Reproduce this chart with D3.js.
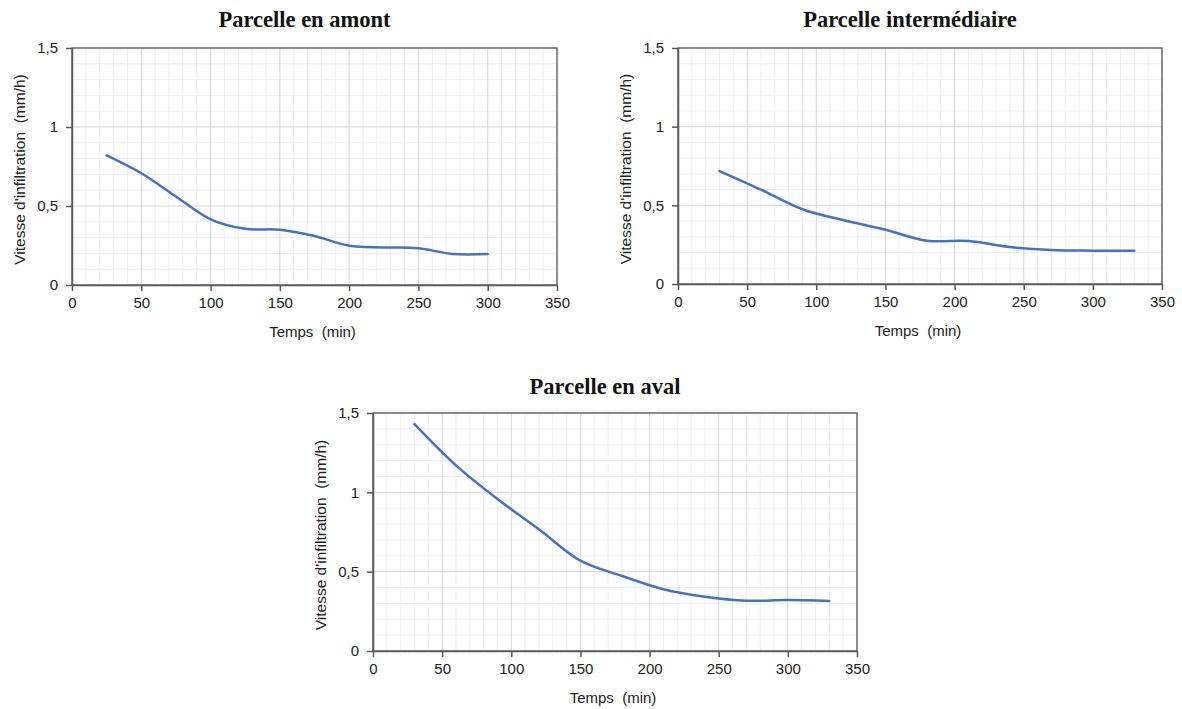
<!DOCTYPE html>
<html>
<head>
<meta charset="utf-8">
<script src="https://cdn.jsdelivr.net/npm/d3@7"></script>
<style>
  html, body { margin: 0; padding: 0; background: #fff; }
  svg { display: block; }
  text { white-space: pre; }
</style>
</head>
<body>
<svg id="chart" width="1182" height="709"></svg>
<script>
// ---- Data ----
const titles = ["Parcelle en amont", "Parcelle intermédiaire", "Parcelle en aval"];
const xLabel = "Temps  (min)";
const yLabel = "Vitesse d'infiltration  (mm/h)";

const amontTime  = [25, 50, 75, 100, 125, 150, 175, 200, 225, 250, 275, 300];
const amontRate  = [0.82, 0.707, 0.56, 0.416, 0.356, 0.35, 0.31, 0.249, 0.238, 0.232, 0.196, 0.196];

const interTime  = [30, 60, 90, 120, 150, 180, 210, 240, 270, 300, 330];
const interRate  = [0.718, 0.60, 0.475, 0.405, 0.345, 0.275, 0.273, 0.235, 0.216, 0.212, 0.212];

const avalTime   = [30, 60, 90, 120, 150, 180, 210, 240, 270, 300, 330];
const avalRate   = [1.43, 1.17, 0.958, 0.767, 0.569, 0.473, 0.389, 0.342, 0.317, 0.321, 0.315];

const xTicks = [0, 50, 100, 150, 200, 250, 300, 350];
const yTicks = [0, 0.5, 1, 1.5];
const yTickLabels = ["0", "0,5", "1", "1,5"];

// ---- Layout ----
const panels = [
  { title: titles[0], t: amontTime, v: amontRate, left: 72,  right: 557,  top: 48,  bottom: 285, titleY: 27 },
  { title: titles[1], t: interTime, v: interRate, left: 678, right: 1162, top: 48,  bottom: 284, titleY: 27 },
  { title: titles[2], t: avalTime,  v: avalRate,  left: 373, right: 857,  top: 413, bottom: 651, titleY: 394 }
];

const svg = d3.select("#chart");
const axisColor = "#595959";

panels.forEach(p => {
  const x = d3.scaleLinear().domain([0, 350]).range([p.left, p.right]);
  const y = d3.scaleLinear().domain([0, 1.5]).range([p.bottom, p.top]);
  const g = svg.append("g");

  // minor grid
  const xMinor = d3.range(0, 351, 10).filter(d => d % 50 !== 0);
  const yMinor = d3.range(0, 16, 1).map(d => d / 10).filter(d => Math.round(d * 10) % 5 !== 0);
  g.selectAll(".xmin").data(xMinor).enter().append("line")
    .attr("x1", d => x(d)).attr("x2", d => x(d)).attr("y1", p.top).attr("y2", p.bottom)
    .attr("stroke", "#efefef").attr("stroke-width", 1);
  g.selectAll(".ymin").data(yMinor).enter().append("line")
    .attr("y1", d => y(d)).attr("y2", d => y(d)).attr("x1", p.left).attr("x2", p.right)
    .attr("stroke", "#efefef").attr("stroke-width", 1);
  // major grid
  g.selectAll(".xmaj").data(xTicks).enter().append("line")
    .attr("x1", d => x(d)).attr("x2", d => x(d)).attr("y1", p.top).attr("y2", p.bottom)
    .attr("stroke", "#d9d9d9").attr("stroke-width", 1);
  g.selectAll(".ymaj").data(yTicks).enter().append("line")
    .attr("y1", d => y(d)).attr("y2", d => y(d)).attr("x1", p.left).attr("x2", p.right)
    .attr("stroke", "#d9d9d9").attr("stroke-width", 1);

  // border
  g.append("rect").attr("x", p.left).attr("y", p.top)
    .attr("width", p.right - p.left).attr("height", p.bottom - p.top)
    .attr("fill", "none").attr("stroke", axisColor).attr("stroke-width", 1.3);

  // axes
  const xAxis = d3.axisBottom(x).tickValues(xTicks).tickSize(6).tickSizeOuter(0).tickPadding(6)
    .tickFormat(d3.format("d"));
  const gx = g.append("g").attr("transform", `translate(0,${p.bottom})`).call(xAxis);
  const yAxis = d3.axisLeft(y).tickValues(yTicks).tickSize(6).tickSizeOuter(0).tickPadding(8)
    .tickFormat((d, i) => yTickLabels[i]);
  const gy = g.append("g").attr("transform", `translate(${p.left},0)`).call(yAxis);
  [gx, gy].forEach(a => {
    a.select(".domain").attr("stroke", axisColor).attr("stroke-width", 1.5);
    a.selectAll(".tick line").attr("stroke", axisColor).attr("stroke-width", 1.5);
    a.selectAll(".tick text").attr("fill", "#222")
      .style("font-family", "'Liberation Sans', Arial, sans-serif").style("font-size", "15px");
  });

  // line
  const line = d3.line().x(d => x(d[0])).y(d => y(d[1])).curve(d3.curveCatmullRom.alpha(0.5));
  g.append("path").datum(p.t.map((t, i) => [t, p.v[i]]))
    .attr("d", line).attr("fill", "none").attr("stroke", "#4472C4")
    .attr("stroke-width", 2.5).attr("stroke-linecap", "round").attr("stroke-linejoin", "round");

  // title
  g.append("text").attr("x", (p.left + p.right) / 2 - 10).attr("y", p.titleY)
    .attr("text-anchor", "middle")
    .style("font-family", "'Liberation Serif', 'Times New Roman', serif")
    .style("font-weight", "bold").style("font-size", "22.5px").attr("fill", "#111")
    .text(p.title);

  // x label
  g.append("text").attr("x", (p.left + p.right) / 2 - 2).attr("y", p.bottom + 52)
    .attr("text-anchor", "middle")
    .style("font-family", "'Liberation Sans', Arial, sans-serif").style("font-size", "15px")
    .attr("fill", "#222").text(xLabel);

  // y label
  const cy = (p.top + p.bottom) / 2 + 3;
  g.append("text").attr("transform", `translate(${p.left - 47},${cy}) rotate(-90)`)
    .attr("text-anchor", "middle")
    .style("font-family", "'Liberation Sans', Arial, sans-serif").style("font-size", "15.5px")
    .attr("fill", "#222").text(yLabel);
});
</script>
</body>
</html>
